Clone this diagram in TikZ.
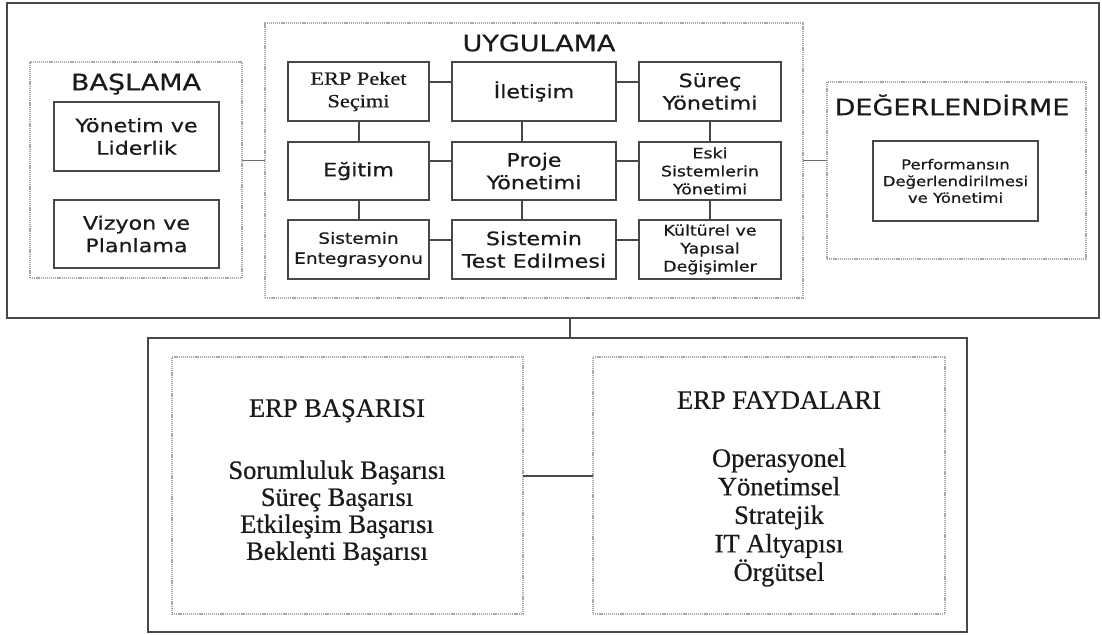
\documentclass[tikz,border=0pt]{standalone}
\usepackage{fontspec}
\setmainfont{Liberation Serif}
\newfontfamily\topsans[FakeStretch=1.2,FakeBold=0.6]{DejaVu Sans}
\newfontfamily\topserif[FakeStretch=1.2,FakeBold=0.6]{Liberation Serif}
\newfontfamily\botserif[FakeBold=0.6]{Liberation Serif}
\definecolor{edge}{HTML}{474747}
\definecolor{dots}{HTML}{A8A8A8}
\definecolor{ink}{HTML}{1A1A1A}
\tikzset{
  outerbox/.style={draw=edge, line width=2.2pt, inner sep=0pt, outer sep=0pt},
  dotbox/.style={draw=dots, line width=1.6pt, dash pattern=on 1.2pt off 0.9pt, inner sep=0pt, outer sep=0pt},
  solidbox/.style={draw=edge, line width=2pt, inner sep=0pt, outer sep=0pt, align=center, text=ink},
  bigtxt/.style={font=\topsans\fontsize{18.5}{22.5}\selectfont},
  smalltxt/.style={font=\topsans\fontsize{14.5}{18}\selectfont},
  midtxt/.style={font=\topsans\fontsize{15.5}{20}\selectfont},
  perftxt/.style={font=\topsans\fontsize{13.7}{16.7}\selectfont},
  serifbox/.style={font=\topserif\fontsize{18.6}{22.5}\selectfont},
  secttitle/.style={font=\topsans\fontsize{22.5}{27}\selectfont, text=ink, inner sep=0pt, text height=16.4pt, text depth=0pt},
  bottitle/.style={font=\botserif\fontsize{26.5}{28}\selectfont, text=ink, inner sep=0pt, text height=17.5pt, text depth=0pt},
  botlist/.style={font=\botserif\fontsize{26.5}{27}\selectfont, text=ink, inner sep=0pt, align=center},
  conn/.style={draw=edge, line width=2pt},
  thinconn/.style={draw=edge!80, line width=1.6pt}
}
\begin{document}
\begin{tikzpicture}[x=1pt,y=-1pt]
\useasboundingbox (0,0) rectangle (1102,634);
% outer frames
\node[outerbox, minimum width=1092pt, minimum height=315pt] (topouter) at (553,160.5) {};
\node[outerbox, minimum width=819pt, minimum height=294pt] (botouter) at (557.5,485) {};
% dotted group boxes
\node[dotbox, minimum width=212pt, minimum height=216pt] (basl) at (136,170) {};
\node[dotbox, minimum width=538pt, minimum height=275pt] (uyg) at (534,160.5) {};
\node[dotbox, minimum width=259pt, minimum height=177pt] (deg) at (956.5,170.5) {};
\node[dotbox, minimum width=351pt, minimum height=257pt] (basari) at (347.5,485.5) {};
\node[dotbox, minimum width=352pt, minimum height=257pt] (fayda) at (769,485.5) {};
% titles
\node[secttitle] (tbasl) at (136,82) {BAŞLAMA};
\node[secttitle] (tuyg) at (539,43) {UYGULAMA};
\node[secttitle] (tdeg) at (952,107) {DEĞERLENDİRME};
% BASLAMA boxes
\node[solidbox, bigtxt, minimum width=165pt, minimum height=69pt] (yl) at (136.5,136.5) {Yönetim ve\\Liderlik};
\node[solidbox, bigtxt, minimum width=165pt, minimum height=68pt] (vp) at (136.5,234) {Vizyon ve\\Planlama};
% UYGULAMA grid
\node[solidbox, serifbox, minimum width=141pt, minimum height=59pt] (a1) at (358.5,91.5) {ERP Peket\\Seçimi};
\node[solidbox, bigtxt, minimum width=164pt, minimum height=59pt] (a2) at (534,91.5) {İletişim};
\node[solidbox, bigtxt, minimum width=142pt, minimum height=59pt] (a3) at (710,91.5) {Süreç\\Yönetimi};
\node[solidbox, bigtxt, minimum width=141pt, minimum height=58pt] (b1) at (358.5,171) {Eğitim};
\node[solidbox, bigtxt, minimum width=164pt, minimum height=58pt] (b2) at (534,171) {Proje\\Yönetimi};
\node[solidbox, smalltxt, minimum width=142pt, minimum height=58pt] (b3) at (710,171) {Eski\\Sistemlerin\\Yönetimi};
\node[solidbox, midtxt, minimum width=141pt, minimum height=59pt] (c1) at (358.5,249.5) {Sistemin\\Entegrasyonu};
\node[solidbox, bigtxt, minimum width=164pt, minimum height=59pt] (c2) at (534,249.5) {Sistemin\\Test Edilmesi};
\node[solidbox, smalltxt, minimum width=142pt, minimum height=59pt] (c3) at (710,249.5) {Kültürel ve\\Yapısal\\Değişimler};
% DEGERLENDIRME box
\node[solidbox, perftxt, minimum width=165pt, minimum height=80pt] (perf) at (955.5,181) {Performansın\\Değerlendirilmesi\\ve Yönetimi};
% bottom texts
\node[bottitle] (tbasari) at (337,408) {ERP BAŞARISI};
\node[botlist] (lbasari) at (337,513) {Sorumluluk Başarısı\\Süreç Başarısı\\Etkileşim Başarısı\\Beklenti Başarısı};
\node[bottitle] (tfayda) at (779,400) {ERP FAYDALARI};
\node[botlist, font=\botserif\fontsize{26.5}{28.5}\selectfont] (lfayda) at (779,517.5) {Operasyonel\\Yönetimsel\\Stratejik\\IT Altyapısı\\Örgütsel};
% connectors between groups
\draw[thinconn] (basl.east |- uyg.west) -- (uyg.west);
\draw[thinconn] (uyg.east) -- (deg.west |- uyg.east);
% grid horizontal connectors
\foreach \r in {a,b,c}{
  \draw[conn] ([yshift=10pt]\r1.east) -- ([yshift=10pt]\r2.west);
  \draw[conn] ([yshift=10pt]\r2.east) -- ([yshift=10pt]\r3.west);
}
% grid vertical connectors
\draw[conn] (a1.south) -- (b1.north);
\draw[conn] (b1.south) -- (c1.north);
\draw[conn] ([xshift=-12pt]a2.south) -- ([xshift=-12pt]b2.north);
\draw[conn] ([xshift=-12pt]b2.south) -- ([xshift=-12pt]c2.north);
\draw[conn] (a3.south) -- (b3.north);
\draw[conn] (b3.south) -- (c3.north);
% top to bottom
\draw[conn] ([xshift=12.5pt]botouter.north) -- ([xshift=12.5pt]botouter.north |- topouter.south);
\draw[conn] ([yshift=9.5pt]basari.east) -- ([yshift=9.5pt]fayda.west);
\end{tikzpicture}
\end{document}
